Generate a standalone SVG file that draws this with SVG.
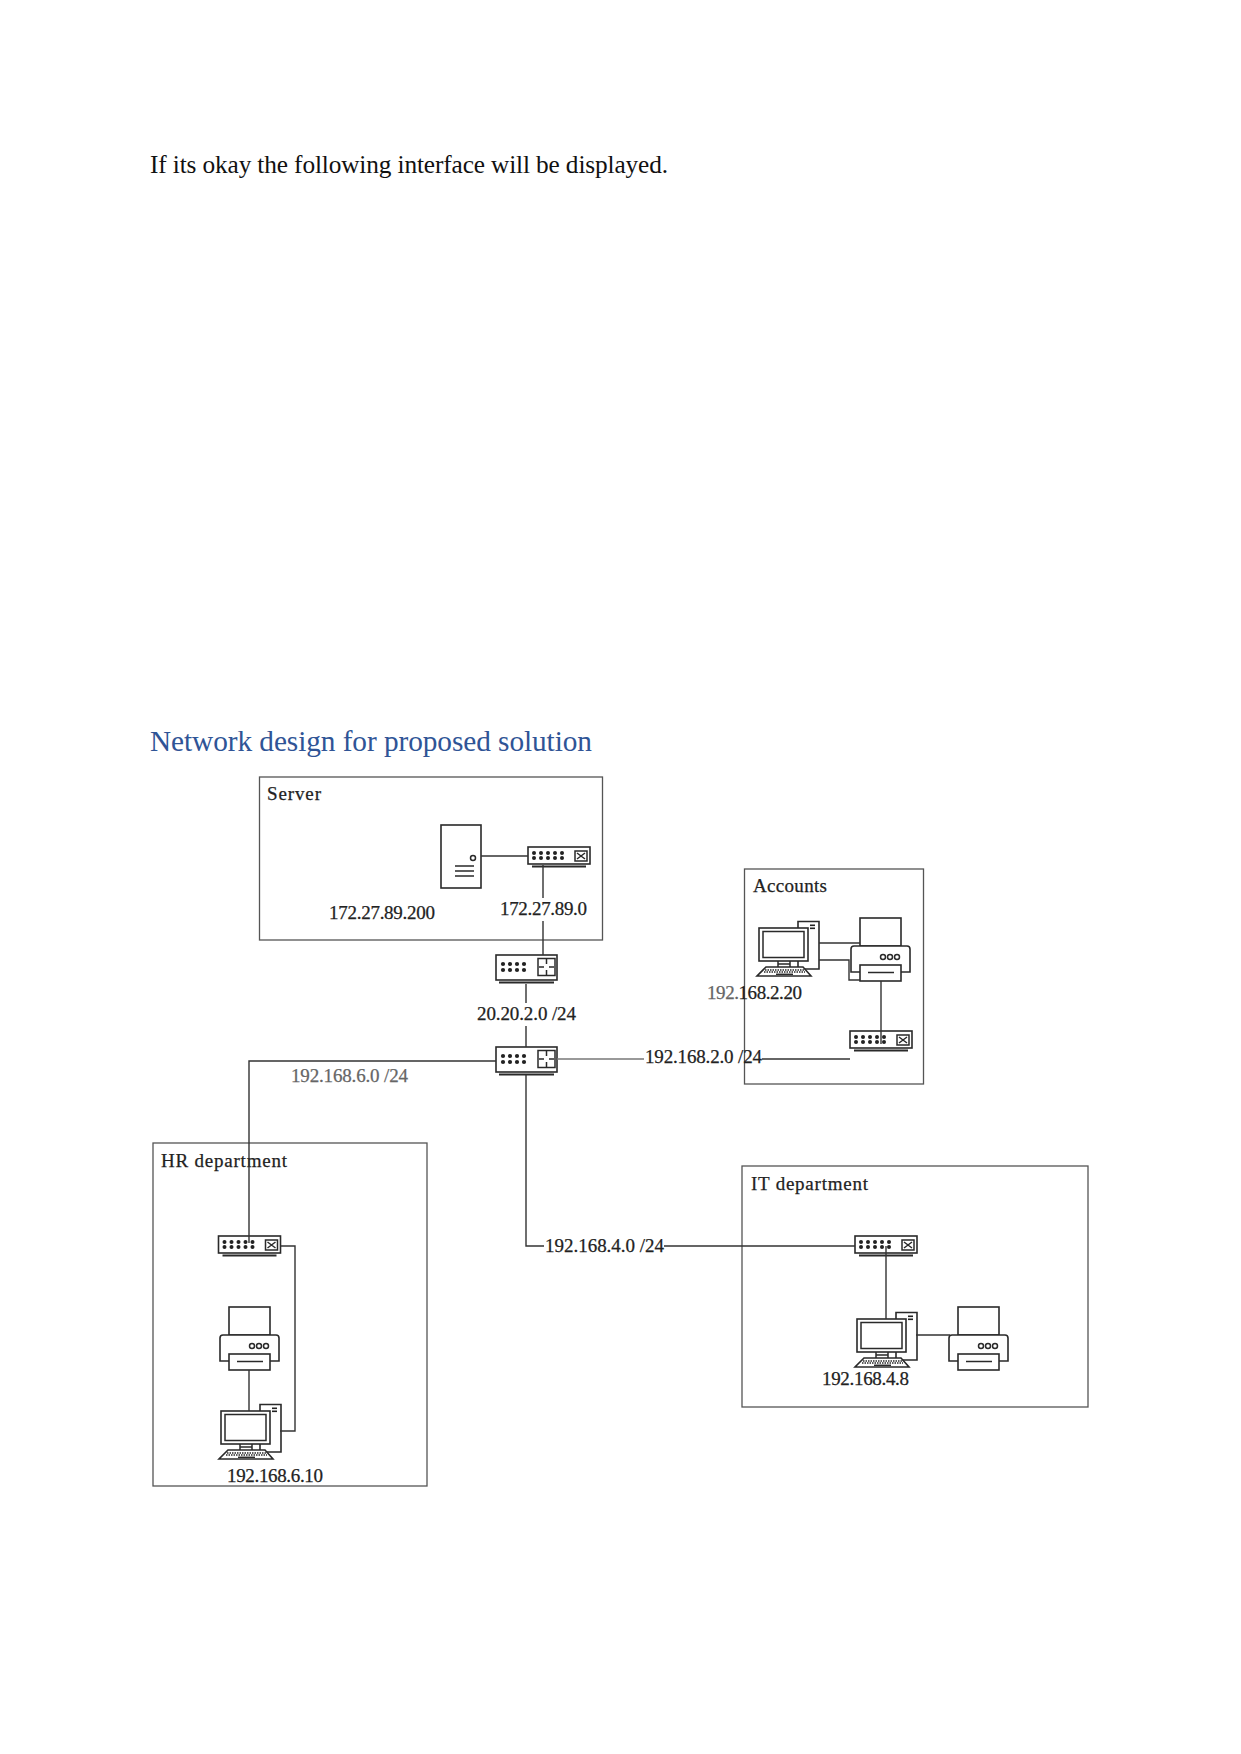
<svg xmlns="http://www.w3.org/2000/svg" width="1241" height="1754" viewBox="0 0 1241 1754">
<style>
text{font-family:"Liberation Serif","Times New Roman",serif;fill:#222}
.page{font-size:25.3px;fill:#111}
.title{font-size:29.3px;fill:#2f5496}
.lbl{font-size:19px;stroke:#222;stroke-width:.25}
.soft{fill:#666;stroke:#666}
.zone{fill:none;stroke:#555;stroke-width:1.3}
.ico{fill:#fff;stroke:#2a2a2a;stroke-width:1.6}
.thin{fill:none;stroke:#2a2a2a;stroke-width:1.5}
.dot{fill:#222}
.wire{fill:none;stroke:#333;stroke-width:1.4}
.wire2{fill:none;stroke:#777;stroke-width:1.3}
</style>
<defs>
<!-- 62 wide managed switch -->
<g id="sw">
<rect class="ico" x="0" y="0" width="62" height="17"/>
<path d="M4 19.500H58" fill="none" stroke="#2a2a2a" stroke-width="2"/>
<g class="dot"><circle cx="6" cy="6" r="2"/><circle cx="13" cy="6" r="2"/><circle cx="20" cy="6" r="2"/><circle cx="27" cy="6" r="2"/><circle cx="34" cy="6" r="2"/><circle cx="6" cy="11" r="2"/><circle cx="13" cy="11" r="2"/><circle cx="20" cy="11" r="2"/><circle cx="27" cy="11" r="2"/><circle cx="34" cy="11" r="2"/></g>
<rect class="thin" x="47" y="4" width="12" height="10"/>
<path class="thin" d="M49 6L57 12M49 12L57 6"/>
</g>
<!-- 61 wide router -->
<g id="rt">
<rect class="ico" x="0" y="0" width="61" height="25"/>
<path d="M3 27.500H58" fill="none" stroke="#2a2a2a" stroke-width="2"/>
<g class="dot"><circle cx="7" cy="9" r="2.100"/><circle cx="14" cy="9" r="2.100"/><circle cx="21" cy="9" r="2.100"/><circle cx="28" cy="9" r="2.100"/><circle cx="7" cy="15" r="2.100"/><circle cx="14" cy="15" r="2.100"/><circle cx="21" cy="15" r="2.100"/><circle cx="28" cy="15" r="2.100"/></g>
<rect class="thin" x="42" y="3.500" width="17" height="17"/>
<path class="thin" d="M50.500 4V9M50.500 15V20M43 12H48M53 12H58"/>
</g>
<!-- desktop with tower and keyboard; origin at monitor corner -->
<g id="pc">
<path class="ico" d="M39 -6.500H60V41H39Z"/>
<rect class="dot" x="51" y="-3.500" width="5" height="1.600"/>
<rect class="dot" x="51" y="-0.500" width="5" height="1.600"/>
<path class="thin" d="M19 33V40M31 33V40M19 36H31"/>
<rect class="ico" x="0" y="0" width="49" height="33"/>
<rect class="thin" x="4" y="3.500" width="41" height="26"/>
<path class="ico" d="M-2 48H52L44 39H7Z"/>
<path d="M6 42H45M5 44H46" fill="none" stroke="#2a2a2a" stroke-width="1.500" stroke-dasharray="1.500 1"/>
<path class="thin" d="M17 46.300H34"/>
</g>
<!-- printer; origin at paper top-left -->
<g id="pr">
<rect class="ico" x="0" y="0" width="41" height="28"/>
<path class="ico" d="M-9 54V31Q-9 28 -6 28H47Q50 28 50 31V54Z"/>
<rect class="ico" x="0" y="47" width="41" height="16"/>
<path class="thin" d="M8 54.500H34"/>
<circle class="thin" cx="23" cy="39" r="2.500"/><circle class="thin" cx="30" cy="39" r="2.500"/><circle class="thin" cx="37" cy="39" r="2.500"/>
</g>
</defs>
<rect width="1241" height="1754" fill="#fff"/>
<text class="page" x="150" y="173" textLength="518" lengthAdjust="spacing">If its okay the following interface will be displayed.</text>
<text class="title" x="150" y="751" textLength="442" lengthAdjust="spacing">Network design for proposed solution</text>

<!-- site outlines -->
<g id="zones">
<rect class="zone" x="259.500" y="777" width="343" height="163"/>
<rect class="zone" x="744.500" y="869" width="179" height="215"/>
<rect class="zone" x="153" y="1143" width="274" height="343"/>
<rect class="zone" x="742" y="1166" width="346" height="241"/>
</g>

<g id="server-site">
<text class="lbl" x="267" y="800" textLength="54">Server</text>
<g id="server">
<rect class="ico" x="441" y="825" width="40" height="63"/>
<circle class="thin" cx="473" cy="858" r="2.500"/>
<path class="thin" d="M455 866H474M455 871H474M455 876H474"/>
</g>
<use id="server-switch" href="#sw" x="528" y="847"/>
<text class="lbl" x="329" y="919" textLength="106">172.27.89.200</text>
<text class="lbl" x="500" y="915" textLength="87">172.27.89.0</text>
</g>

<use id="router-edge" href="#rt" x="496" y="955"/>
<text class="lbl" x="477" y="1020" textLength="99">20.20.2.0 /24</text>
<use id="router-core" href="#rt" x="496" y="1047"/>
<text class="lbl soft" x="291" y="1082" textLength="117">192.168.6.0 /24</text>
<text class="lbl" x="645" y="1063" textLength="117">192.168.2.0 /24</text>
<text class="lbl" x="545" y="1252" textLength="119">192.168.4.0 /24</text>

<g id="accounts-site">
<text class="lbl" x="753" y="892" textLength="74">Accounts</text>
<use id="accounts-pc" href="#pc" x="759" y="928"/>
<use id="accounts-printer" href="#pr" x="860" y="918"/>
<use id="accounts-switch" href="#sw" x="850" y="1031"/>
<text class="lbl" x="707" y="999" textLength="95"><tspan class="soft">192.</tspan>168.2.20</text>
</g>

<g id="hr-site">
<text class="lbl" x="161" y="1167" textLength="126">HR department</text>
<use id="hr-switch" href="#sw" x="218.500" y="1236"/>
<use id="hr-printer" href="#pr" x="229" y="1307"/>
<use id="hr-pc" href="#pc" x="221" y="1411"/>
<text class="lbl" x="227" y="1482" textLength="96">192.168.6.10</text>
</g>

<g id="it-site">
<text class="lbl" x="751" y="1190" textLength="117">IT department</text>
<use id="it-switch" href="#sw" x="855" y="1236"/>
<use id="it-pc" href="#pc" x="857" y="1319"/>
<use id="it-printer" href="#pr" x="958" y="1307"/>
<text class="lbl" x="822" y="1385" textLength="87">192.168.4.8</text>
</g>

<!-- links between devices, over the labels they run through -->
<g id="links">
<path class="wire" d="M481 856H528"/>
<path class="wire" d="M543 865V898M543 921V955"/>
<path class="wire" d="M526 984V1003M526 1026V1047"/>
<path class="wire" d="M496 1061H249V1243"/>
<path class="wire2" d="M557 1059H644"/>
<path class="wire" d="M762 1059H850"/>
<path class="wire" d="M526 1075V1246H544M664 1246H855"/>
<path class="wire" d="M819 943H860M819 960H849V980H860M881 981V1044"/>
<path class="wire" d="M886 1246V1319M916 1335H950"/>
<path class="wire" d="M281 1246H295V1431H280M249 1370V1411"/>
</g>
</svg>
